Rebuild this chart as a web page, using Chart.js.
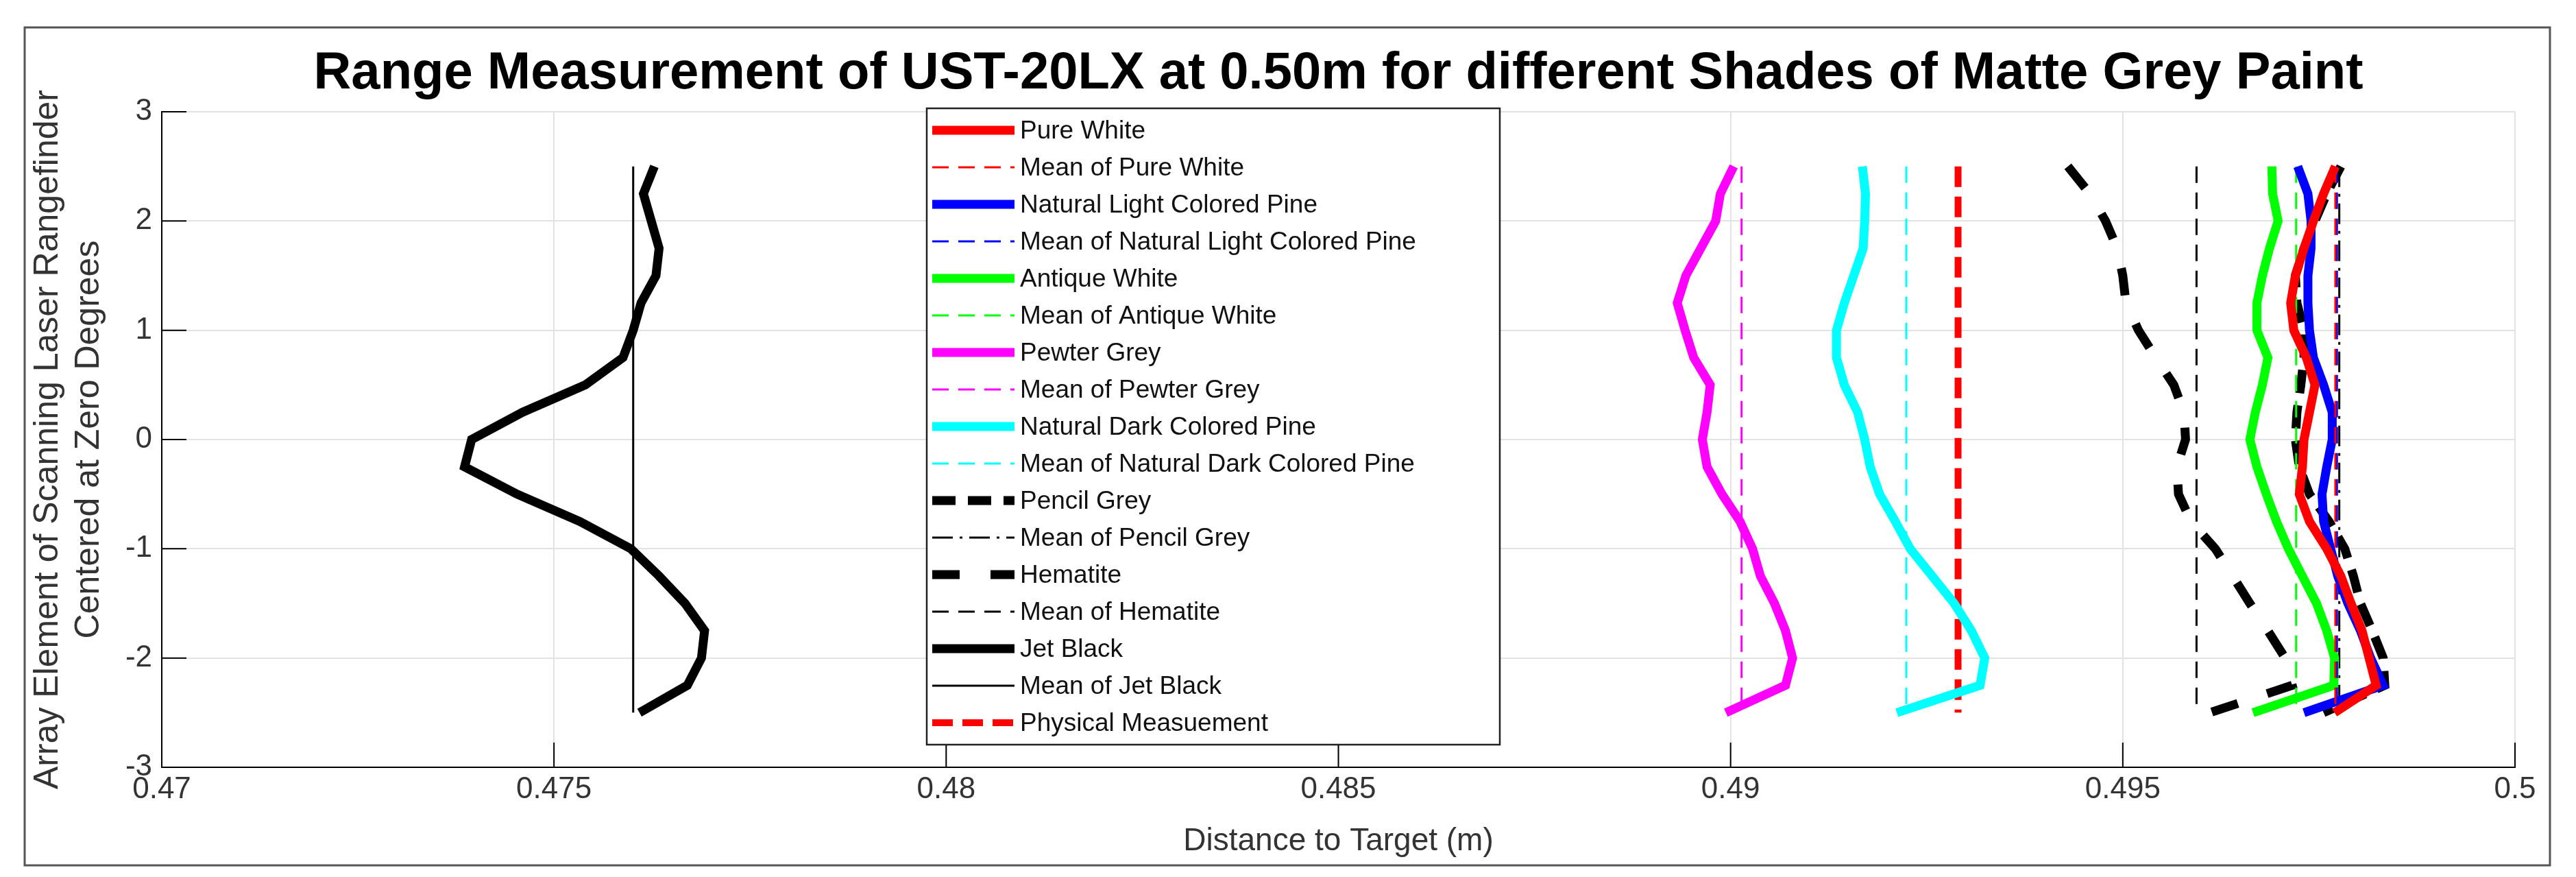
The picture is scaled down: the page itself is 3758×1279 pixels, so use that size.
<!DOCTYPE html>
<html lang="en">
<head>
<meta charset="UTF-8">
<title>Range Measurement</title>
<style>
  body { margin: 0; background: #fff; }
  #wrap { width: 3758px; height: 1279px; }
</style>
</head>
<body>
<div id="wrap"><canvas id="chart" width="3758" height="1279"></canvas></div>
<script src="https://cdn.jsdelivr.net/npm/chart.js"></script>
<script>
// array element positions (y), top to bottom
var elements = [2.5, 2.25, 2, 1.75, 1.5, 1.25, 1, 0.75, 0.5, 0.25, 0, -0.25, -0.5, -0.75, -1, -1.25, -1.5, -1.75, -2, -2.25, -2.5];

var pureWhite = [0.49771, 0.49756, 0.49743, 0.49731, 0.4972, 0.49714, 0.49718, 0.49734, 0.49745, 0.49738, 0.49731, 0.49729, 0.49725, 0.49738, 0.4976, 0.49778, 0.49791, 0.49805, 0.49814, 0.49823, 0.4977];
var lightPine = [0.49723, 0.49736, 0.4974, 0.4974, 0.49736, 0.49736, 0.49738, 0.49743, 0.49756, 0.49767, 0.49767, 0.4976, 0.49754, 0.49756, 0.49765, 0.49774, 0.49787, 0.49803, 0.49816, 0.49832, 0.49731];
var antiqueWhite = [0.4969, 0.49691, 0.49698, 0.49687, 0.49678, 0.49671, 0.49671, 0.49685, 0.49678, 0.49669, 0.49662, 0.49671, 0.49683, 0.49696, 0.49711, 0.49729, 0.49747, 0.4976, 0.4977, 0.49769, 0.49666];
var pewterGrey = [0.49004, 0.48987, 0.48981, 0.48962, 0.48943, 0.48932, 0.48942, 0.48953, 0.48974, 0.4897, 0.48964, 0.4897, 0.48989, 0.49012, 0.49028, 0.49038, 0.49056, 0.4907, 0.49079, 0.4907, 0.48994];
var darkPine = [0.49168, 0.49172, 0.49171, 0.49169, 0.49157, 0.49145, 0.49135, 0.49135, 0.49145, 0.49162, 0.49171, 0.49178, 0.4919, 0.4921, 0.49229, 0.49257, 0.49285, 0.49307, 0.49324, 0.49318, 0.49212];
var pencilGrey = [0.49778, 0.4976, 0.49745, 0.49731, 0.4972, 0.49722, 0.49731, 0.49731, 0.49727, 0.49722, 0.4972, 0.49725, 0.49738, 0.49763, 0.49783, 0.49794, 0.49803, 0.49818, 0.49832, 0.49834, 0.49756];
var hematite = [0.4943, 0.49458, 0.49478, 0.49493, 0.495, 0.49504, 0.4952, 0.49542, 0.49565, 0.49578, 0.4958, 0.49569, 0.49571, 0.49587, 0.49618, 0.4964, 0.49662, 0.49685, 0.49707, 0.49716, 0.49611];
var jetBlack = [0.47628, 0.47614, 0.47624, 0.47634, 0.4763, 0.47611, 0.47601, 0.47588, 0.4754, 0.4746, 0.47395, 0.47386, 0.47453, 0.47533, 0.47598, 0.47634, 0.47667, 0.47692, 0.47688, 0.4767, 0.47609];

// means and the physical measurement
var means = { pureWhite: 0.49771, lightPine: 0.49773, antiqueWhite: 0.49721, pewterGrey: 0.49014, darkPine: 0.49224, pencilGrey: 0.49776, hematite: 0.49594, jetBlack: 0.47601 };
var physical = 0.4929;

var xTicks = ['0.47', '0.475', '0.48', '0.485', '0.49', '0.495', '0.5'];
var yTicks = ['-3', '-2', '-1', '0', '1', '2', '3'];

function pts(xs) { return xs.map(function (x, i) { return { x: x, y: elements[i] }; }); }
function vline(x) { return [{ x: x, y: elements[0] }, { x: x, y: elements[elements.length - 1] }]; }

function ds(label, data, color, width, dash) {
  return { label: label, data: data, borderColor: color, backgroundColor: color, borderWidth: width,
    borderDash: dash || [], showLine: true, pointRadius: 0, fill: false, tension: 0 };
}

var datasets = [
  ds('Pure White', pts(pureWhite), '#ff0000', 13),
  ds('Mean of Pure White', vline(means.pureWhite), '#ff0000', 3, [24, 14]),
  ds('Natural Light Colored Pine', pts(lightPine), '#0000ff', 13),
  ds('Mean of Natural Light Colored Pine', vline(means.lightPine), '#0000ff', 3, [24, 14]),
  ds('Antique White', pts(antiqueWhite), '#00ff00', 13),
  ds('Mean of Antique White', vline(means.antiqueWhite), '#00ff00', 3, [24, 14]),
  ds('Pewter Grey', pts(pewterGrey), '#ff00ff', 13),
  ds('Mean of Pewter Grey', vline(means.pewterGrey), '#ff00ff', 3, [24, 14]),
  ds('Natural Dark Colored Pine', pts(darkPine), '#00ffff', 13),
  ds('Mean of Natural Dark Colored Pine', vline(means.darkPine), '#00ffff', 3, [24, 14]),
  ds('Pencil Grey', pts(pencilGrey), '#000000', 13, [34, 18]),
  ds('Mean of Pencil Grey', vline(means.pencilGrey), '#000000', 3, [30, 10, 4, 10]),
  ds('Hematite', pts(hematite), '#000000', 13, [40, 45]),
  ds('Mean of Hematite', vline(means.hematite), '#000000', 3, [24, 14]),
  ds('Jet Black', pts(jetBlack), '#000000', 13),
  ds('Mean of Jet Black', vline(means.jetBlack), '#000000', 3),
  ds('Physical Measuement', vline(physical), '#ff0000', 10, [30, 14])
];

var font = 'Helvetica, "Liberation Sans", Arial, sans-serif';

// frame, title, inward ticks and the legend box
var decor = {
  id: 'decor',
  afterDraw: function (chart) {
    var ctx = chart.ctx, a = chart.chartArea;
    var xs = chart.scales.x, ys = chart.scales.y;
    ctx.save();
    ctx.strokeStyle = '#555';
    ctx.lineWidth = 3;
    ctx.strokeRect(36, 40, 3684, 1222);

    ctx.fillStyle = '#000';
    ctx.font = 'bold 76px ' + font;
    ctx.textAlign = 'center';
    ctx.textBaseline = 'middle';
    ctx.fillText('Range Measurement of UST-20LX at 0.50m for different Shades of Matte Grey Paint', (a.left + a.right) / 2, 108);

    ctx.strokeStyle = '#000';
    ctx.lineWidth = 2;
    xTicks.forEach(function (t) {
      var px = xs.getPixelForValue(parseFloat(t));
      ctx.beginPath(); ctx.moveTo(px, a.bottom); ctx.lineTo(px, a.bottom - 36); ctx.stroke();
    });
    yTicks.forEach(function (t) {
      var py = ys.getPixelForValue(parseFloat(t));
      ctx.beginPath(); ctx.moveTo(a.left, py); ctx.lineTo(a.left + 36, py); ctx.stroke();
    });

    // legend
    var lx = 1352, ly = 158, lw = 836, rowH = 54;
    var lh = rowH * datasets.length + 10;
    ctx.fillStyle = '#fff';
    ctx.fillRect(lx, ly, lw, lh);
    ctx.strokeStyle = '#222';
    ctx.lineWidth = 2.5;
    ctx.strokeRect(lx, ly, lw, lh);
    ctx.font = '37px ' + font;
    ctx.textAlign = 'left';
    chart.data.datasets.forEach(function (d, i) {
      var cy = ly + 32 + i * rowH;
      ctx.save();
      ctx.strokeStyle = d.borderColor;
      ctx.lineWidth = d.borderWidth;
      ctx.setLineDash(d.borderDash);
      ctx.beginPath(); ctx.moveTo(lx + 8, cy); ctx.lineTo(lx + 128, cy); ctx.stroke();
      ctx.restore();
      ctx.fillStyle = '#111';
      ctx.fillText(d.label, lx + 136, cy + 2);
    });
    ctx.restore();
  }
};

new Chart(document.getElementById('chart'), {
  type: 'scatter',
  data: { datasets: datasets },
  plugins: [decor],
  options: {
    responsive: false,
    animation: false,
    layout: { padding: { top: 163, left: 40, right: 89, bottom: 20 } },
    plugins: { legend: { display: false }, title: { display: false }, tooltip: { enabled: false } },
    scales: {
      x: {
        type: 'linear', min: 0.47, max: 0.5,
        afterBuildTicks: function (s) { s.ticks = xTicks.map(function (t) { return { value: parseFloat(t) }; }); },
        ticks: { callback: function (v, i) { return xTicks[i]; }, font: { size: 44, family: font }, color: '#333', padding: 6, maxRotation: 0 },
        grid: { color: '#e2e2e2', lineWidth: 2, tickLength: 0 },
        border: { color: '#000', width: 2 },
        title: { display: true, text: 'Distance to Target (m)', font: { size: 46, family: font }, color: '#333', padding: { top: 0 } },
        afterFit: function (s) { s.height = 140; }
      },
      y: {
        type: 'linear', min: -3, max: 3,
        afterBuildTicks: function (s) { s.ticks = yTicks.map(function (t) { return { value: parseFloat(t) }; }); },
        ticks: { callback: function (v, i) { return yTicks[i]; }, font: { size: 44, family: font }, color: '#333', padding: 14 },
        grid: { color: '#e2e2e2', lineWidth: 2, tickLength: 0 },
        border: { color: '#000', width: 2 },
        title: { display: true, text: ['Array Element of Scanning Laser Rangefinder', 'Centered at Zero Degrees'], font: { size: 50, family: font }, color: '#333', padding: 0 },
        afterFit: function (s) { s.width = 196; }
      }
    }
  }
});
</script>
</body>
</html>
